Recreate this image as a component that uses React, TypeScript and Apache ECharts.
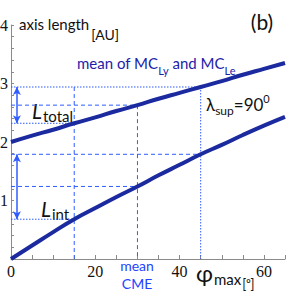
import React, { useEffect, useRef } from 'react';
import * as echarts from 'echarts';

// phi_max in degrees
const phi = [0, 5, 10, 15, 20, 25, 30, 35, 40, 45, 50, 55, 60, 65];
// mean of MC_Ly and MC_Le : total axis length [AU]
const totalLength = [2.0, 2.11, 2.21, 2.32, 2.42, 2.53, 2.63, 2.74, 2.84, 2.94, 3.04, 3.15, 3.25, 3.35];
// internal axis length [AU]
const intLength = [0, 0.23, 0.46, 0.68, 0.87, 1.06, 1.24, 1.43, 1.61, 1.79, 1.95, 2.12, 2.28, 2.43];
// guide positions (phi values)
const guidePhi = [15, 30, 45];
const verticalTopPhi = [45, 30, 45];
const arrowPhi = 1.4;
const xLabelValues = [0, 20, 40, 60];
const yLabelValues = [1, 2, 3, 4];

const CURVE = '#1b2a9e';
const GUIDE = '#2f5cff';
const TEXTBLUE = '#1c22a8';
const CMEBLUE = '#2343ff';
const SANS = "Lato, 'DejaVu Sans', sans-serif";
const SERIF = "'Liberation Serif', 'DejaVu Serif', serif";

const hTotalType = ['dotted', 'dashed', 'dotted'];
const hIntType = ['dotted', 'dashed', 'dashed'];
const vType = ['dashed', 'dashed', 'dotted'];
const dashOf = (t: string) => (t === 'dashed' ? [4, 3] : [1.5, 1.5]);

const valAt = (arr: number[], p: number) => arr[phi.indexOf(p)];

type Part = { t: string; size: number; y: number; italic?: boolean; fill?: string; gap?: number };

let measureCtx: CanvasRenderingContext2D | null = null;
const fontOf = (p: Part) => `${p.italic ? 'italic ' : ''}${p.size}px ${SANS}`;
const measure = (text: string, font: string) => {
  if (!measureCtx) measureCtx = document.createElement('canvas').getContext('2d');
  if (!measureCtx) return text.length * 7;
  measureCtx.font = font;
  return measureCtx.measureText(text).width;
};

// sequence of text fragments (for sub/superscripts), each with its own centre line
const seq = (x0: number, parts: Part[]) => {
  let x = x0;
  return parts.map((p) => {
    x += p.gap || 0;
    const font = fontOf(p);
    const el = {
      type: 'text', x, y: p.y,
      style: {
        text: p.t, font, fill: p.fill || '#111',
        align: 'left', verticalAlign: 'middle', textAlign: 'left', textVerticalAlign: 'middle',
      },
    };
    x += measure(p.t, font);
    return el;
  });
};

export default function App() {
  const ref = useRef<HTMLDivElement>(null);
  useEffect(() => {
    if (!ref.current) return;
    const chart = echarts.init(ref.current, null, { renderer: 'svg' });

    const guideSeries: any[] = [];
    guidePhi.forEach((g, k) => {
      const t = valAt(totalLength, g);
      const n = valAt(intLength, g);
      guideSeries.push({
        type: 'line', z: 1, symbol: 'none', silent: true,
        data: [[0, t], [g, t]],
        lineStyle: { color: GUIDE, width: 1, type: dashOf(hTotalType[k]) },
      });
      guideSeries.push({
        type: 'line', z: 1, symbol: 'none', silent: true,
        data: [[0, n], [g, n]],
        lineStyle: { color: GUIDE, width: 1, type: dashOf(hIntType[k]) },
      });
      guideSeries.push({
        type: 'line', z: 1, symbol: 'none', silent: true,
        data: [[g, valAt(totalLength, verticalTopPhi[k])], [g, 0]],
        lineStyle: { color: GUIDE, width: 1, type: dashOf(vType[k]) },
      });
    });

    const top45 = valAt(totalLength, 45);
    const top15 = valAt(totalLength, 15);
    const int45 = valAt(intLength, 45);
    const int15 = valAt(intLength, 15);

    const texts: any[] = [
      ...seq(19, [
        { t: 'axis length', size: 15, y: 24 },
        { t: '[AU]', size: 14, y: 34, gap: 2 },
      ]),
      {
        type: 'text', x: 262, y: 21,
        style: { text: '(b)', font: `21px ${SANS}`, fill: '#111', align: 'center', verticalAlign: 'middle', textAlign: 'center', textVerticalAlign: 'middle' },
      },
      ...seq(77, [
        { t: 'mean of MC', size: 15, y: 63, fill: TEXTBLUE },
        { t: 'Ly', size: 11, y: 70, fill: TEXTBLUE },
        { t: ' and MC', size: 15, y: 63, fill: TEXTBLUE },
        { t: 'Le', size: 11, y: 70, fill: TEXTBLUE },
      ]),
      ...seq(206, [
        { t: 'λ', size: 17, y: 104 },
        { t: 'sup', size: 12, y: 110 },
        { t: '=90', size: 17, y: 104 },
        { t: '0', size: 11, y: 98 },
      ]),
      ...seq(32, [
        { t: 'L', size: 21, y: 110, italic: true },
        { t: 'total', size: 15, y: 116, gap: 1 },
      ]),
      ...seq(41, [
        { t: 'L', size: 21, y: 208, italic: true },
        { t: 'int', size: 15, y: 214, gap: 1 },
      ]),
      {
        type: 'text', x: 137, y: 265,
        style: { text: 'mean', font: `14px ${SANS}`, fill: CMEBLUE, align: 'center', verticalAlign: 'middle', textAlign: 'center', textVerticalAlign: 'middle' },
      },
      {
        type: 'text', x: 137, y: 283,
        style: { text: 'CME', font: `14px ${SANS}`, fill: CMEBLUE, align: 'center', verticalAlign: 'middle', textAlign: 'center', textVerticalAlign: 'middle' },
      },
      ...seq(196, [
        { t: 'φ', size: 23, y: 273 },
        { t: 'max', size: 15, y: 279, gap: 1 },
        { t: '[⁰]', size: 13, y: 284, gap: 1 },
      ]),
    ];

    const option: any = {
      animation: false,
      grid: { left: 11, right: 6, top: 25, bottom: 37, containLabel: false, outerBoundsMode: 'none' },
      xAxis: {
        type: 'value', min: 0, max: 65, interval: 5,
        axisLine: { show: true, onZero: false, lineStyle: { color: '#8a8a8a', width: 1 } },
        axisTick: { show: true, inside: true, length: 4, lineStyle: { color: '#8a8a8a' } },
        splitLine: { show: false },
        axisLabel: {
          margin: 4, fontFamily: SERIF, fontSize: 16, color: '#111',
          formatter: (v: number) => (xLabelValues.includes(Math.round(v)) && Math.abs(v - Math.round(v)) < 1e-6 ? String(Math.round(v)) : ''),
        },
      },
      yAxis: {
        type: 'value', min: 0, max: 4, interval: 0.2,
        axisLine: { show: true, onZero: false, lineStyle: { color: '#8a8a8a', width: 1 } },
        axisTick: { show: true, inside: true, length: 3, lineStyle: { color: '#8a8a8a' } },
        splitLine: { show: false },
        axisLabel: {
          margin: 3, fontFamily: SERIF, fontSize: 16, color: '#111',
          formatter: (v: number) => {
            const r = Math.round(v);
            return Math.abs(v - r) < 1e-6 && yLabelValues.includes(r) ? String(r) : '';
          },
        },
      },
      series: [
        ...guideSeries,
        {
          type: 'line', z: 3, symbol: 'none', smooth: true, silent: true,
          data: phi.map((p, i) => [p, totalLength[i]]),
          lineStyle: { color: CURVE, width: 4 },
          markLine: {
            silent: true, symbol: ['arrow', 'arrow'], symbolSize: [6, 8],
            label: { show: false },
            lineStyle: { color: GUIDE, width: 1.5, type: 'solid' },
            data: [
              [{ coord: [arrowPhi, top45] }, { coord: [arrowPhi, top15] }],
              [{ coord: [arrowPhi, int45] }, { coord: [arrowPhi, int15] }],
            ],
          },
        },
        {
          type: 'line', z: 3, symbol: 'none', smooth: true, silent: true,
          data: phi.map((p, i) => [p, intLength[i]]),
          lineStyle: { color: CURVE, width: 4 },
        },
      ],
      graphic: texts,
    };
    chart.setOption(option);
    return () => chart.dispose();
  }, []);
  return <div ref={ref} style={{ position: 'fixed', left: 0, top: 0, width: 291, height: 296, background: '#fff' }} />;
}
